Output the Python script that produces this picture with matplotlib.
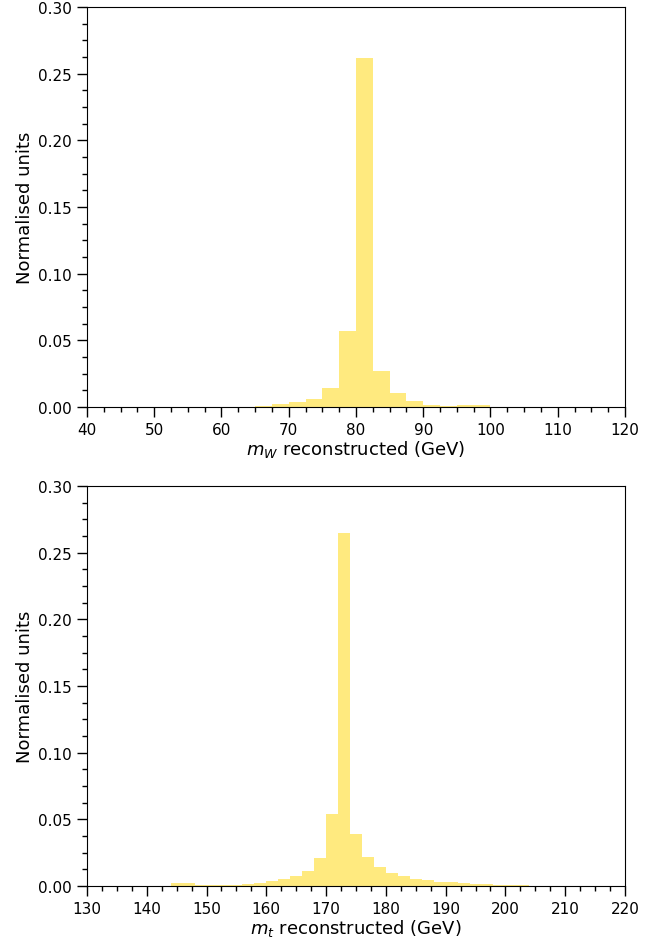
import numpy as np
import matplotlib
matplotlib.use("Agg")
from matplotlib import pyplot as plt
from matplotlib.ticker import MultipleLocator, FormatStrFormatter

# W mass histogram, bins of 2.5 GeV from 40 to 120
mw_edges = np.arange(40, 122.5, 2.5)
mw_vals = [0, 0, 0, 0, 0, 0, 0, 0, 0, 0,             # 40 - 65
           0.001, 0.002, 0.0035, 0.0062, 0.0142, 0.0572,  # 65 - 80
           0.262, 0.0273, 0.0103, 0.0045, 0.0018, 0.0006,  # 80 - 95
           0.0018, 0.0015, 0, 0, 0, 0, 0, 0, 0, 0]          # 95 - 120

# top mass histogram, bins of 2 GeV from 130 to 220
mt_edges = np.arange(130, 222, 2)
mt_vals = [0, 0, 0, 0, 0, 0, 0,                    # 130 - 144
           0.0022, 0.0022,                         # 144 - 148
           0.0008, 0.0008, 0.0008, 0.0008,         # 148 - 156
           0.0012, 0.0025, 0.0035, 0.005, 0.0073,  # 156 - 166
           0.0115, 0.0208, 0.054,                  # 166 - 172
           0.265,                                  # 172 - 174
           0.0388, 0.0215, 0.014, 0.0098, 0.0073,  # 174 - 184
           0.0053, 0.0042, 0.0032, 0.0027, 0.0022, # 184 - 194
           0.0018, 0.0015, 0.001, 0.0006, 0.0004,  # 194 - 204
           0.0002, 0.0001, 0, 0, 0, 0, 0, 0]       # 204 - 220

fig = plt.figure(figsize=(6.66, 9.45), dpi=100)
ax1 = fig.add_axes([0.1306, 0.5683, 0.8078, 0.4232])
ax2 = fig.add_axes([0.1306, 0.0614, 0.8078, 0.4233])

def style(ax, xlim, xlabel):
    ax.set_xlim(*xlim)
    ax.set_ylim(0, 0.3)
    ax.xaxis.set_major_locator(MultipleLocator(10))
    ax.xaxis.set_minor_locator(MultipleLocator(2.5))
    ax.yaxis.set_major_locator(MultipleLocator(0.05))
    ax.yaxis.set_minor_locator(MultipleLocator(0.0125))
    ax.yaxis.set_major_formatter(FormatStrFormatter('%.2f'))
    ax.tick_params(which='major', direction='out', length=7.2, width=1, labelsize=11)
    ax.tick_params(which='minor', direction='out', length=3.6, width=1)
    ax.set_xlabel(xlabel, fontsize=13, labelpad=1)
    ax.set_ylabel('Normalised units', fontsize=13, labelpad=3)

ax1.stairs(mw_vals, mw_edges, fill=True, color='gold', alpha=0.5, linewidth=0)
style(ax1, (40, 120), r'$m_W$ reconstructed (GeV)')

ax2.stairs(mt_vals, mt_edges, fill=True, color='gold', alpha=0.5, linewidth=0)
style(ax2, (130, 220), r'$m_t$ reconstructed (GeV)')

fig.savefig('out.png', dpi=100)
